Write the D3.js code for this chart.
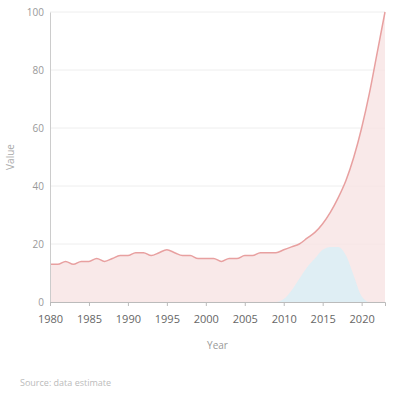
<!DOCTYPE html>
<html><head><meta charset="utf-8">
<script src="https://cdn.jsdelivr.net/npm/d3@7"></script>
<style>body{margin:0;background:#fff;font-family:"Open Sans",sans-serif}</style>
</head><body><svg id="c" width="400" height="404"></svg>
<script>
const years = d3.range(1980, 2024);
const seriesA = [13,13,14,13,14,14,15,14,15,16,16,17,17,16,17,18,17,16,16,15,15,15,14,15,15,16,16,17,17,17,18,19,20,22,24,27,31,36,42,50,60,72,86,100];
const seriesB = [0,0,0,0,0,0,0,0,0,0,0,0,0,0,0,0,0,0,0,0,0,0,0,0,0,0,0,0,0,0,1,4,8,12,15,18,19,19,16,9,2,0,0,0];
const yTicks = [0,20,40,60,80,100];
const xTicks = [1980,1985,1990,1995,2000,2005,2010,2015,2020];

const svg = d3.select("#c");
const m = {l:50,r:15,t:12,b:102};
const W=400,H=404;
const x = d3.scaleLinear().domain([1980,2023]).range([m.l, W-m.r]);
const y = d3.scaleLinear().domain([0,100]).range([H-m.b, m.t]);

svg.append("g").selectAll("line").data(yTicks).join("line")
  .attr("x1",m.l).attr("x2",W-m.r).attr("y1",d=>y(d)).attr("y2",d=>y(d))
  .attr("stroke","#eee");

const areaA = d3.area().x((d,i)=>x(years[i])).y0(y(0)).y1(d=>y(d)).curve(d3.curveMonotoneX);
const lineA = d3.line().x((d,i)=>x(years[i])).y(d=>y(d)).curve(d3.curveMonotoneX);
svg.append("path").datum(seriesA).attr("d",areaA).attr("fill","#f7e3e3").attr("opacity",0.8);
svg.append("path").datum(seriesB).attr("d",areaA).attr("fill","#dceef5").attr("opacity",0.9);
svg.append("path").datum(seriesA).attr("d",lineA).attr("fill","none").attr("stroke","#e8a0a0").attr("stroke-width",1.5);

const ya = svg.append("g").attr("transform",`translate(${m.l},0)`).call(d3.axisLeft(y).tickValues(yTicks).tickSize(0).tickPadding(6));
ya.select(".domain").attr("stroke","#ccc");
ya.selectAll("text").attr("fill","#999").attr("font-size",10).attr("font-family","Open Sans");

const xa = svg.append("g").attr("transform",`translate(0,${y(0)})`).call(d3.axisBottom(x).tickValues(xTicks).tickFormat(d3.format("d")).tickSize(4).tickPadding(9));
xa.select(".domain").attr("stroke","#bbb");
xa.selectAll("line").attr("stroke","#bbb");
xa.selectAll("text").attr("fill","#666").attr("font-size",11).attr("font-family","Open Sans");

svg.append("text").attr("x",(m.l+W-m.r)/2).attr("y",349).attr("text-anchor","middle")
  .attr("fill","#999").attr("font-size",10).text("Year");
svg.append("text").attr("transform",`translate(14,${(m.t+H-m.b)/2}) rotate(-90)`).attr("text-anchor","middle")
  .attr("fill","#aaa").attr("font-size",10).text("Value");
svg.append("text").attr("x",20).attr("y",386).attr("fill","#bbb").attr("font-size",9).text("Source: data estimate");
</script></body></html>
